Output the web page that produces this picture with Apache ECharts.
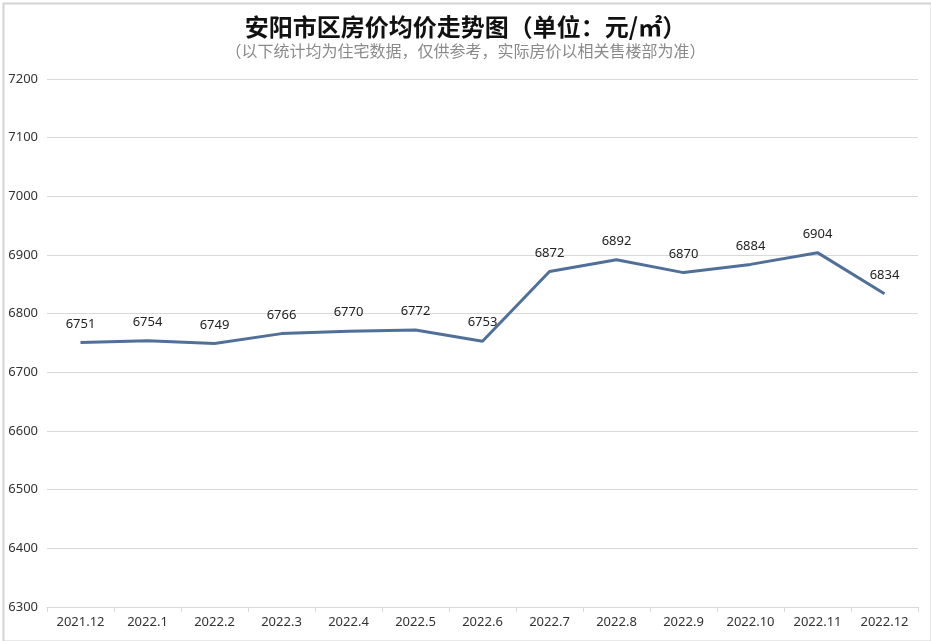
<!DOCTYPE html>
<html>
<head>
<meta charset="utf-8">
<script src="https://cdn.jsdelivr.net/npm/echarts@6/dist/echarts.min.js"></script>
<style>html,body{margin:0;padding:0;background:#fff;}#c{width:931px;height:641px;}</style>
</head>
<body>
<div id="c"></div>
<script>
const categories = ['2021.12','2022.1','2022.2','2022.3','2022.4','2022.5','2022.6','2022.7','2022.8','2022.9','2022.10','2022.11','2022.12'];
const prices = [6751, 6754, 6749, 6766, 6770, 6772, 6753, 6872, 6892, 6870, 6884, 6904, 6834];
const titleText = '安阳市区房价均价走势图（单位：元/㎡）';
const subtitleText = '（以下统计均为住宅数据，仅供参考，实际房价以相关售楼部为准）';

const chart = echarts.init(document.getElementById('c'), null, {renderer: 'canvas'});
chart.setOption({
  backgroundColor: '#fff',
  animation: false,
  title: {
    text: titleText,
    subtext: subtitleText,
    left: 'center',
    top: 10,
    itemGap: 4,
    textStyle: {fontFamily: 'Noto Sans CJK SC', fontSize: 24, fontWeight: 'bold', color: '#111'},
    subtextStyle: {fontFamily: 'Noto Sans CJK SC', fontSize: 16, color: '#8a8a8a'}
  },
  graphic: [{
    type: 'rect', left: 1, top: 1, shape: {width: 928, height: 638},
    style: {fill: 'none', stroke: '#d4d4d4', lineWidth: 2}, silent: true
  }],
  grid: {left: 47, right: 13, top: 79, bottom: 34},
  xAxis: {
    type: 'category',
    data: categories,
    boundaryGap: true,
    axisLine: {lineStyle: {color: '#d9d9d9', width: 1}},
    axisTick: {show: true, length: 5, lineStyle: {color: '#d9d9d9'}},
    axisLabel: {color: '#333', fontSize: 13, fontFamily: 'Noto Sans', margin: 9}
  },
  yAxis: {
    type: 'value',
    min: 6300, max: 7200, interval: 100,
    axisLine: {show: false},
    axisTick: {show: false},
    axisLabel: {color: '#333', fontSize: 13, fontFamily: 'Noto Sans', margin: 9, formatter: v => String(v)},
    splitLine: {lineStyle: {color: '#d9d9d9', width: 1}}
  },
  series: [{
    type: 'line',
    data: prices,
    showSymbol: true,
    symbol: 'circle',
    symbolSize: 2,
    itemStyle: {color: 'rgba(80,112,154,0)', borderWidth: 0},
    lineStyle: {color: '#50709a', width: 3},
    label: {show: true, position: 'top', distance: 11, color: '#222', fontSize: 13, fontFamily: 'Noto Sans'}
  }]
});
</script>
</body>
</html>
